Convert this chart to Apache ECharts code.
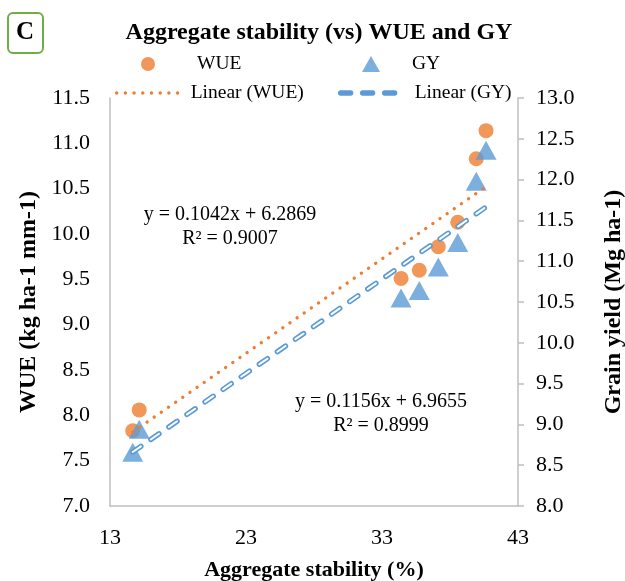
<!DOCTYPE html>
<html>
<head>
<meta charset="utf-8">
<script src="https://cdn.jsdelivr.net/npm/echarts@6/dist/echarts.min.js"></script>
<style>
  html, body { margin: 0; padding: 0; background: #fff; }
  #chart { width: 625px; height: 581px; }
</style>
</head>
<body>
<div id="chart"></div>
<script>
// Aggregate stability (%) for each treatment
const aggStability = [14.67, 15.15, 34.40, 35.74, 37.14, 38.57, 39.93, 40.65];
// Water use efficiency (kg ha-1 mm-1)
const wueValues = [7.83, 8.06, 9.51, 9.60, 9.86, 10.13, 10.83, 11.14];
// Grain yield (Mg ha-1)
const gyValues = [8.66, 8.94, 10.55, 10.64, 10.93, 11.23, 11.98, 12.36];
// Linear fits: [slope, intercept, R²]
const wueFit = [0.1042, 6.2869, 0.9007];
const gyFit = [0.1156, 6.9655, 0.8999];
// Axis ranges: [min, max, interval]
const xRange = [13, 43, 10];
const wueRange = [7.0, 11.5, 0.5];
const gyRange = [8.0, 13.0, 0.5];

const ORANGE = '#ED7D31';
const BLUE = '#5B9BD5';
const AXIS_GREY = '#bfbfbf';
const SERIF = '"Liberation Serif", "DejaVu Serif", serif';

const xMin = Math.min(...aggStability);
const xMax = Math.max(...aggStability);
const fitLine = (fit) => [xMin, xMax].map(x => [x, fit[0] * x + fit[1]]);
const fitText = (fit) => 'y = ' + fit[0].toFixed(4) + 'x + ' + fit[1].toFixed(4) +
                         '\nR² = ' + fit[2].toFixed(4);

const chart = echarts.init(document.getElementById('chart'), null, { renderer: 'canvas' });

const legendText = (padLeft) => ({
  fontFamily: SERIF, fontSize: 19.5, color: '#000', padding: [0, 0, 0, padLeft]
});
const tickLabel = { fontFamily: SERIF, fontSize: 22, color: '#000' };
const axisName = (size) => ({ fontFamily: SERIF, fontSize: size, fontWeight: 'bold', color: '#000' });

const dottedStyle = { color: ORANGE, width: 3.3, type: [0.1, 8.6], cap: 'round' };
const dashedStyle = { color: BLUE, width: 5.3, type: [10, 12], cap: 'round' };

chart.setOption({
  backgroundColor: '#fff',
  animation: false,
  title: {
    text: 'Aggregate stability (vs) WUE and GY',
    left: 314, top: 16, textAlign: 'center',
    textStyle: { fontFamily: SERIF, fontSize: 24, fontWeight: 'bold', color: '#000' }
  },
  legend: [
    { data: ['WUE'], left: 136, top: 49, itemWidth: 14, itemHeight: 14,
      textStyle: legendText(37) },
    { data: ['GY'], left: 357, top: 49, itemWidth: 18, itemHeight: 16,
      textStyle: legendText(27) },
    { data: ['Linear (WUE)'], left: 110, top: 78, itemWidth: 62, itemHeight: 14,
      itemStyle: { opacity: 0 }, lineStyle: dottedStyle, textStyle: legendText(7) },
    { data: ['Linear (GY)'], left: 333, top: 78, itemWidth: 62, itemHeight: 14,
      itemStyle: { opacity: 0 }, lineStyle: dashedStyle, textStyle: legendText(7) }
  ],
  grid: { left: 110, right: 107, top: 98, bottom: 75, outerBoundsMode: 'none' },
  xAxis: {
    type: 'value', min: xRange[0], max: xRange[1], interval: xRange[2],
    name: 'Aggregate stability (%)', nameLocation: 'middle', nameGap: 53,
    nameTextStyle: axisName(22),
    axisLine: { lineStyle: { color: AXIS_GREY, width: 1.5 } },
    axisTick: { show: false },
    splitLine: { show: false },
    axisLabel: Object.assign({ margin: 21 }, tickLabel)
  },
  yAxis: [
    {
      type: 'value', position: 'left', min: wueRange[0], max: wueRange[1], interval: wueRange[2],
      name: 'WUE (kg ha-1 mm-1)', nameLocation: 'middle', nameGap: 66, nameRotate: 90,
      nameTextStyle: axisName(24),
      axisLine: { show: true, lineStyle: { color: AXIS_GREY, width: 1.5 } },
      axisTick: { show: false },
      splitLine: { show: false },
      axisLabel: Object.assign({ margin: 20, formatter: v => v.toFixed(1) }, tickLabel)
    },
    {
      type: 'value', position: 'right', min: gyRange[0], max: gyRange[1], interval: gyRange[2],
      name: 'Grain yield (Mg ha-1)', nameLocation: 'middle', nameGap: 84, nameRotate: 90,
      nameTextStyle: axisName(24),
      axisLine: { show: true, lineStyle: { color: AXIS_GREY, width: 1.5 } },
      axisTick: { show: true, inside: false, length: 6, lineStyle: { color: AXIS_GREY, width: 1.5 } },
      splitLine: { show: false },
      axisLabel: Object.assign({ margin: 18, formatter: v => v.toFixed(1) }, tickLabel)
    }
  ],
  series: [
    {
      name: 'WUE', type: 'scatter', yAxisIndex: 0,
      symbol: 'circle', symbolSize: 15,
      itemStyle: { color: ORANGE },
      data: aggStability.map((x, i) => [x, wueValues[i]])
    },
    {
      name: 'GY', type: 'scatter', yAxisIndex: 1,
      symbol: 'triangle', symbolSize: [21, 19],
      itemStyle: { color: BLUE },
      data: aggStability.map((x, i) => [x, gyValues[i]])
    },
    {
      name: 'Linear (WUE)', type: 'line', yAxisIndex: 0,
      symbol: 'none', silent: true,
      itemStyle: { color: ORANGE },
      lineStyle: dottedStyle,
      data: fitLine(wueFit)
    },
    {
      name: 'Linear (GY)', type: 'line', yAxisIndex: 1,
      symbol: 'none', silent: true,
      itemStyle: { color: BLUE },
      lineStyle: dashedStyle,
      data: fitLine(gyFit)
    },
    {
      // white core that turns the blue dashes into hollow capsules
      name: 'gyCore', type: 'line', yAxisIndex: 1,
      symbol: 'none', silent: true,
      lineStyle: { color: '#fff', width: 2, type: [10, 12], cap: 'round' },
      data: fitLine(gyFit)
    }
  ],
  graphic: [
    {
      type: 'rect', left: 7, top: 12,
      shape: { width: 35, height: 40, r: 5 },
      style: { fill: '#fff', stroke: '#70AD47', lineWidth: 2 }
    },
    {
      type: 'text', x: 25, y: 33,
      style: { text: 'C', font: 'bold 25px ' + SERIF, fill: '#000',
               align: 'center', verticalAlign: 'middle' }
    },
    {
      type: 'text', x: 230, y: 227,
      style: { text: fitText(wueFit), font: '20px ' + SERIF, lineHeight: 24,
               fill: '#000', align: 'center', verticalAlign: 'middle' }
    },
    {
      type: 'text', x: 381, y: 414,
      style: { text: fitText(gyFit), font: '20px ' + SERIF, lineHeight: 24,
               fill: '#000', align: 'center', verticalAlign: 'middle' }
    }
  ]
});
</script>
</body>
</html>
